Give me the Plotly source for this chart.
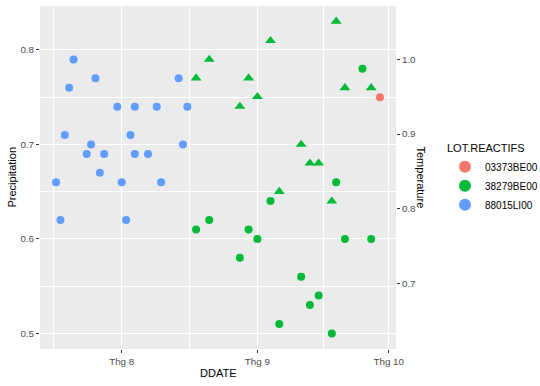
import plotly.graph_objects as go

# ---- data ----
lots = ["03373BE00", "38279BE00", "88015LI00"]
colors = {"03373BE00": "#F8766D", "38279BE00": "#00BA38", "88015LI00": "#619CFF"}

blue_dates = ["2019-07-17", "2019-07-18", "2019-07-19", "2019-07-20", "2019-07-21",
              "2019-07-24", "2019-07-25", "2019-07-26", "2019-07-27", "2019-07-28",
              "2019-07-31", "2019-08-01", "2019-08-02", "2019-08-03", "2019-08-04",
              "2019-08-04", "2019-08-07", "2019-08-09", "2019-08-10", "2019-08-14",
              "2019-08-15", "2019-08-16"]
blue_precip = [0.66, 0.62, 0.71, 0.76, 0.79,
               0.69, 0.70, 0.77, 0.67, 0.69,
               0.74, 0.66, 0.62, 0.71, 0.74,
               0.69, 0.69, 0.74, 0.66, 0.77,
               0.70, 0.74]

green_dates = ["2019-08-18", "2019-08-21", "2019-08-28", "2019-08-30", "2019-09-01",
               "2019-09-04", "2019-09-06", "2019-09-11", "2019-09-13", "2019-09-15",
               "2019-09-18", "2019-09-19", "2019-09-21", "2019-09-25", "2019-09-27"]
green_precip = [0.61, 0.62, 0.58, 0.61, 0.60,
                0.64, 0.51, 0.56, 0.53, 0.54,
                0.50, 0.66, 0.60, 0.78, 0.60]

green_temp_dates = ["2019-08-18", "2019-08-21", "2019-08-28", "2019-08-30", "2019-09-01",
                    "2019-09-04", "2019-09-06", "2019-09-11", "2019-09-13", "2019-09-15",
                    "2019-09-18", "2019-09-19", "2019-09-21", "2019-09-27"]
green_temp = [0.975, 1.000, 0.937, 0.975, 0.950,
              1.025, 0.823, 0.886, 0.861, 0.861,
              0.810, 1.051, 0.962, 0.962]

red_dates = ["2019-09-29"]
red_precip = [0.75]

x_tickvals = ["2019-08-01", "2019-09-01", "2019-10-01"]
x_ticktext = ["Thg 8", "Thg 9", "Thg 10"]
x_minor = ["2019-07-16 12:00", "2019-08-16 12:00", "2019-09-16"]
y_ticks = [0.5, 0.6, 0.7, 0.8]
y_minor = [0.55, 0.65, 0.75]
y2_ticks = [0.7, 0.8, 0.9, 1.0]

# ---- geometry ----
W, H = 540, 386
L, R, T, B = 40, 144, 6, 37
pw, ph = W - L - R, H - T - B
y_range = [0.4835, 0.8465]
sec_scale = 0.79
y2_range = [y_range[0] / sec_scale, y_range[1] / sec_scale]

def px_x(px):
    return (px - L) / pw

def px_y(py):
    return (H - B - py) / ph

FONT = "Liberation Sans, Arial, sans-serif"
msize = 8

fig = go.Figure()
fig.add_trace(go.Scatter(x=red_dates, y=red_precip, mode="markers", name=lots[0],
                         legendgroup=lots[0], legendrank=1,
                         marker=dict(color=colors[lots[0]], size=msize, symbol="circle", line=dict(width=0))))
fig.add_trace(go.Scatter(x=green_dates, y=green_precip, mode="markers", name=lots[1],
                         legendgroup=lots[1], legendrank=2,
                         marker=dict(color=colors[lots[1]], size=msize, symbol="circle", line=dict(width=0))))
fig.add_trace(go.Scatter(x=blue_dates, y=blue_precip, mode="markers", name=lots[2],
                         legendgroup=lots[2], legendrank=3,
                         marker=dict(color=colors[lots[2]], size=msize, symbol="circle", line=dict(width=0))))
fig.add_trace(go.Scatter(x=green_temp_dates, y=green_temp, mode="markers", name=lots[1],
                         legendgroup=lots[1], showlegend=False, yaxis="y2",
                         marker=dict(color=colors[lots[1]], size=9.5, symbol="triangle-up", line=dict(width=0))))

tick_font = dict(family=FONT, size=9.8, color="#4D4D4D")
fig.update_layout(
    width=W, height=H, autosize=False,
    margin=dict(l=L, r=R, t=T, b=B, pad=0),
    paper_bgcolor="white", plot_bgcolor="#EBEBEB",
    font=dict(family=FONT, size=11, color="black"),
    showlegend=True,
    legend=dict(x=445 / W, y=1 - 138 / H, xref="container", yref="container",
                xanchor="left", yanchor="top",
                title=dict(text="LOT.REACTIFS", font=dict(size=11, color="black")),
                font=dict(size=10, color="black"), bgcolor="rgba(0,0,0,0)",
                itemsizing="constant", tracegroupgap=0),
    xaxis=dict(type="date", range=["2019-07-13 08:00", "2019-10-02 16:00"],
               tickmode="array", tickvals=x_tickvals, ticktext=x_ticktext,
               showgrid=True, gridcolor="white", gridwidth=1.1,
               minor=dict(tickmode="array", tickvals=x_minor, showgrid=True,
                          gridcolor="white", gridwidth=0.55, ticks=""),
               ticks="outside", ticklen=3, tickcolor="#333333", tickwidth=1,
               tickfont=tick_font, zeroline=False, showline=False, fixedrange=True),
    yaxis=dict(range=y_range, tickmode="array", tickvals=y_ticks,
               ticktext=[f"{v:.1f}" for v in y_ticks],
               showgrid=True, gridcolor="white", gridwidth=1.1,
               minor=dict(tickmode="array", tickvals=y_minor, showgrid=True,
                          gridcolor="white", gridwidth=0.55, ticks=""),
               ticks="outside", ticklen=3, tickcolor="#333333", tickwidth=1,
               tickfont=tick_font, zeroline=False, showline=False),
    yaxis2=dict(range=y2_range, overlaying="y", side="right", anchor="x",
                tickmode="array", tickvals=y2_ticks,
                ticktext=[f"{v:.1f}" for v in y2_ticks],
                showgrid=False, ticks="outside", ticklen=3, tickcolor="#333333",
                tickwidth=1, tickfont=tick_font, zeroline=False, showline=False),
    annotations=[
        dict(text="Precipitation", x=px_x(11), y=px_y(177.5), xref="paper", yref="paper",
             showarrow=False, textangle=-90, font=dict(size=11, color="black"),
             xanchor="center", yanchor="middle"),
        dict(text="Temperature", x=px_x(421), y=px_y(177.5), xref="paper", yref="paper",
             showarrow=False, textangle=90, font=dict(size=11, color="black"),
             xanchor="center", yanchor="middle"),
        dict(text="DDATE", x=px_x(218), y=px_y(373), xref="paper", yref="paper",
             showarrow=False, font=dict(size=11, color="black"),
             xanchor="center", yanchor="middle"),
    ],
)

fig.write_html("out.html", config={"displayModeBar": False},
               post_script="document.body.style.margin='0';")
